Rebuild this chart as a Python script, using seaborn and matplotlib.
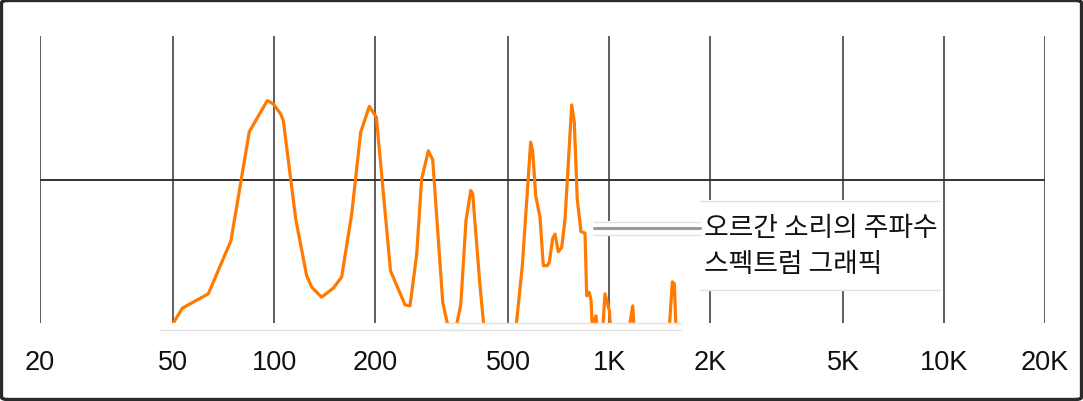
import matplotlib
matplotlib.use("Agg")
import matplotlib.pyplot as plt
from matplotlib.patches import FancyBboxPatch, Rectangle
from matplotlib.lines import Line2D
import seaborn as sns
import pandas as pd

# ---- data ----
freq = [50, 53.2, 63.6, 74.3, 84.3, 95.4, 99.4, 104.6, 106.5, 116,
        125, 129.4, 138.6, 150.2, 159, 170.4, 181.3, 192.4, 201.9, 222.5,
        245.8, 254.4, 266.4, 275.6, 288.6, 297.4, 318.6, 331, 349, 360.6,
        373.8, 386.2, 391.4, 411.6, 423, 527, 550.6, 583, 591, 603.6,
        621.6, 636, 653.6, 662.8, 678.4, 689, 705, 721.8, 738.4, 773,
        787, 803, 824, 847, 857, 872, 883, 891, 913, 922,
        957, 972, 1001, 1010, 1148, 1176, 1186, 1512, 1544, 1565, 1583]
level = [-60, -56.9, -53.9, -42.8, -20.0, -13.5, -14.2, -16.3, -17.7, -38.3,
         -50.1, -52.5, -54.6, -52.7, -50.4, -37.2, -20.1, -14.7, -17.0, -49.1,
         -56.2, -56.4, -45.6, -29.9, -24.0, -25.9, -55.7, -61, -61, -56.2,
         -38.6, -32.3, -33.0, -52.2, -61, -61, -48.0, -22.2, -24.0, -33.4,
         -37.9, -48.0, -48.0, -47.3, -42.3, -41.4, -45.1, -44.2, -38.3, -14.4,
         -18.0, -34.1, -40.9, -41.2, -54.3, -53.6, -55.3, -61, -58.5, -61,
         -61, -53.9, -57.4, -61, -61, -56.4, -61, -61, -51.4, -51.8, -61]
tick_values = [20, 50, 100, 200, 500, 1000, 2000, 5000, 10000, 20000]
tick_labels = ["20", "50", "100", "200", "500", "1K", "2K", "5K", "10K", "20K"]
callout_lines = ["오르간 소리의 주파수", "스펙트럼 그래픽"]

df = pd.DataFrame({"freq": freq, "level": level})

sns.set_style("white")
plt.rcParams["font.family"] = ["Liberation Sans", "DejaVu Sans"]

W, H = 1083, 402
fig = plt.figure(figsize=(W / 100, H / 100), dpi=100)
fig.patch.set_facecolor("white")


def fx(x):
    return x / W


def fy(y):
    return 1 - y / H


ax = fig.add_axes([fx(40), fy(324), (1045 - 40) / W, (324 - 37) / H])
ax.set_xscale("log")
ax.set_xlim(20, 20000)
ax.set_ylim(-60, 0)

grid_c = "#333333"
for v in tick_values:
    ax.axvline(v, color=grid_c, lw=1.1, zorder=1)
ax.axhline(-30, color=grid_c, lw=1.4, zorder=1)

sns.lineplot(data=df, x="freq", y="level", ax=ax, color="#FF7A00",
             lw=2.3, sort=False, estimator=None, zorder=3)

ax.set_xticks(tick_values)
ax.set_xticklabels(tick_labels, fontsize=19.5, color="#111111")
ax.minorticks_off()
ax.tick_params(axis="x", length=0, pad=19)
ax.set_yticks([])
ax.set_xlabel("")
ax.set_ylabel("")
for s in ax.spines.values():
    s.set_visible(False)

# ---- callout decorations (figure pixel coords) ----
faint = "#e2e2e2"
for (x0, x1) in [(160, 460), (445, 681)]:
    fig.add_artist(Line2D([fx(x0), fx(x1)], [fy(331), fy(331)], color=faint, lw=1.0, zorder=5))
fig.add_artist(Line2D([fx(445), fx(681)], [fy(324), fy(324)], color=faint, lw=1.0, zorder=5))

# leader band
fig.add_artist(Rectangle((fx(593), fy(236)), (700 - 593) / W, 14 / H,
                         facecolor="white", edgecolor="none", zorder=6))
for yy in (222.5, 236):
    fig.add_artist(Line2D([fx(593), fx(700)], [fy(yy), fy(yy)], color=faint, lw=1.0, zorder=7))
fig.add_artist(Line2D([fx(594), fx(700)], [fy(229), fy(229)], color="#999999", lw=2.2, zorder=7))

# text box
fig.add_artist(Rectangle((fx(700), fy(291)), (940 - 700) / W, (291 - 201) / H,
                         facecolor="white", edgecolor="none", zorder=6))
for yy in (201.5, 291):
    fig.add_artist(Line2D([fx(700), fx(940)], [fy(yy), fy(yy)], color=faint, lw=1.0, zorder=7))

kfont = ["Noto Sans CJK KR", "DejaVu Sans"]
fig.text(fx(704), fy(229), callout_lines[0], family=kfont, fontsize=19.3,
         color="#111111", ha="left", va="center", zorder=8)
fig.text(fx(704), fy(265), callout_lines[1], family=kfont, fontsize=19.3,
         color="#111111", ha="left", va="center", zorder=8)

# outer rounded border
fig.add_artist(FancyBboxPatch((fx(1.5), fy(400.5)), (W - 3) / W, (H - 3) / H,
                              boxstyle="round,pad=0,rounding_size=0.006",
                              facecolor="none", edgecolor="#2a2a2a", lw=2.4,
                              zorder=10))

fig.savefig("out.png", dpi=100)
